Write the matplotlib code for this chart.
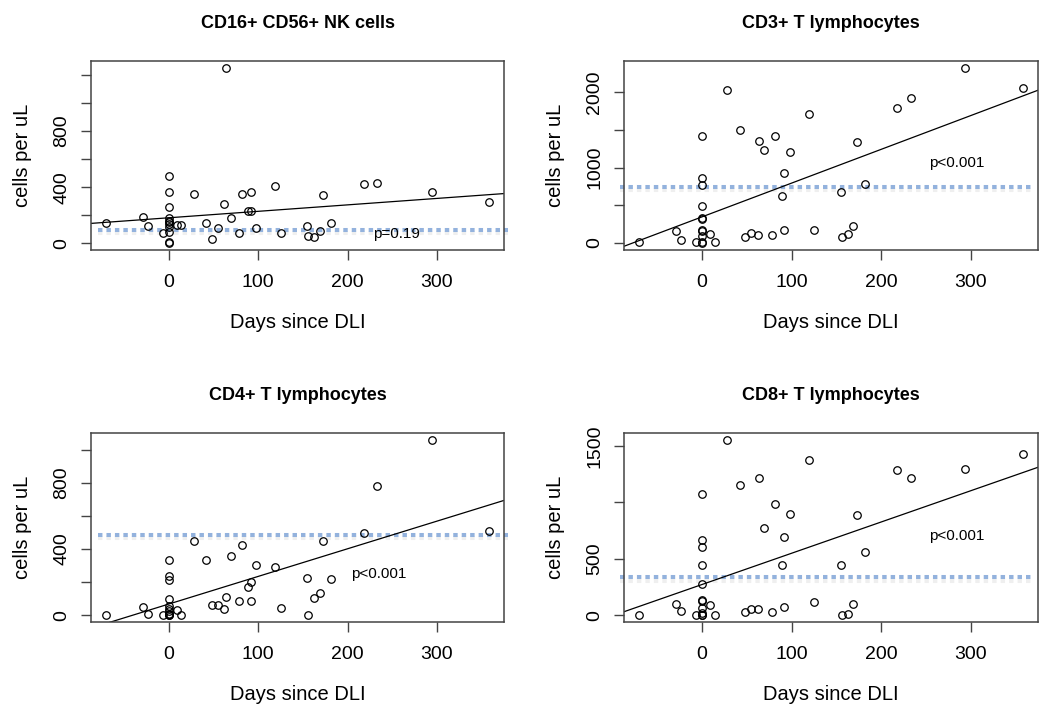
import numpy as np
import matplotlib
matplotlib.use("Agg")
import matplotlib.pyplot as plt
import matplotlib.patheffects as pe

plt.rcParams['font.family'] = ['Liberation Sans', 'DejaVu Sans']

# days since DLI (same samples in every panel), zeros listed separately
days_nz = [-70, -29, -23, -7, 9, 14, 28, 42, 48, 55, 62, 64, 69, 78, 82, 89,
           92, 92, 98, 119, 125, 155, 156, 163, 169, 173, 182, 218, 233, 294, 358]
n_zero = 11

# cell counts (cells per uL), non-zero days then the day-0 samples
nk_nz = [146, 191, 125, 75, 132, 132, 349, 144, 30, 110, 283, 1250, 181, 75, 349, 233,
         363, 231, 108, 410, 75, 125, 52, 45, 90, 344, 146, 424, 427, 368, 292]
nk_zero = [483, 365, 262, 179, 160, 150, 137, 118, 82, 11, 2]

cd3_nz = [8, 153, 40, 8, 123, 13, 2035, 1499, 83, 127, 100, 1354, 1235, 108, 1420, 628,
          923, 167, 1209, 1706, 167, 672, 74, 118, 224, 1341, 778, 1794, 1926, 2322, 2053]
cd3_zero = [1420, 866, 769, 488, 330, 320, 175, 153, 88, 8, 0]

cd4_nz = [0, 48, 8, 0, 34, 0, 446, 334, 60, 64, 40, 108, 356, 88, 426, 170,
          200, 88, 306, 290, 46, 228, 0, 106, 136, 446, 222, 496, 780, 1056, 506]
cd4_zero = [336, 240, 214, 96, 56, 40, 24, 10, 5, 0, 0]

cd8_nz = [0, 103, 39, 0, 88, 0, 1551, 1151, 26, 53, 56, 1218, 771, 30, 989, 450,
          697, 71, 900, 1380, 115, 450, 0, 15, 97, 886, 562, 1289, 1218, 1297, 1430]
cd8_zero = [1077, 671, 609, 450, 280, 139, 124, 65, 20, 0, 0]

titles = ["CD16+ CD56+ NK cells", "CD3+ T lymphocytes", "CD4+ T lymphocytes", "CD8+ T lymphocytes"]
counts = [nk_nz + nk_zero, cd3_nz + cd3_zero, cd4_nz + cd4_zero, cd8_nz + cd8_zero]
ref_level = [96, 747, 486, 335]          # dotted reference lines
fit_intercept = [182, 347, 68, 273]      # regression lines
fit_slope = [0.46, 4.48, 1.667, 2.77]
p_text = ["p=0.19", "p<0.001", "p<0.001", "p<0.001"]
p_pos = [(255, 66), (284, 1063), (235, 250), (284, 700)]
ytick_step = [200, 500, 200, 500]
ytick_labels = [[0, 400, 800], [0, 1000, 2000], [0, 400, 800], [0, 500, 1500]]

days = np.array(days_nz + [0] * n_zero, dtype=float)

fig = plt.figure(figsize=(10.5, 7.18), dpi=100)
positions = [[0.0867, 0.6518, 0.3933, 0.2632], [0.5943, 0.6518, 0.3943, 0.2632],
             [0.0867, 0.1333, 0.3933, 0.2632], [0.5943, 0.1333, 0.3943, 0.2632]]
dot_span = [(0.017, 1.01), (-0.01, 0.984), (0.017, 1.01), (-0.01, 0.984)]

for i in range(4):
    ax = fig.add_axes(positions[i])
    y = np.array(counts[i], dtype=float)

    # R style 4% padding
    xr = days.max() - days.min()
    yr = y.max() - y.min()
    ax.set_xlim(days.min() - 0.04 * xr, days.max() + 0.04 * xr)
    ax.set_ylim(y.min() - 0.04 * yr, y.max() + 0.04 * yr)

    ax.axhline(ref_level[i], xmin=dot_span[i][0], xmax=dot_span[i][1], color='#93b2dd',
               lw=2.9, linestyle=(0, (1.1, 1.0)), dash_capstyle='butt', clip_on=False,
               zorder=1,
               path_effects=[pe.SimpleLineShadow(offset=(0, -2.5), shadow_color='#999999', alpha=0.15),
                             pe.Normal()])

    ax.axline((0, fit_intercept[i]), slope=fit_slope[i], color='black', lw=0.9, zorder=2)

    ax.plot(days, y, 'o', mfc='none', mec='black', ms=5.4, mew=0.9, zorder=3)

    ax.text(p_pos[i][0], p_pos[i][1], p_text[i], fontsize=11, ha='center', va='center')

    ax.set_title(titles[i], fontsize=13, fontweight='bold', pad=24)
    ax.set_xlabel("Days since DLI", fontsize=14.5, labelpad=16)
    ax.set_ylabel("cells per uL", fontsize=14.5, labelpad=15)

    ax.set_xticks([0, 100, 200, 300])
    yt = np.arange(0, y.max() + 1, ytick_step[i])
    ax.set_yticks(yt)
    ax.set_yticklabels([str(int(v)) if int(v) in ytick_labels[i] else '' for v in yt],
                       rotation=90, va='center')
    ax.tick_params(axis='both', direction='out', length=7, width=1, color='#444444',
                   labelsize=14)
    ax.tick_params(axis='x', pad=10)
    ax.tick_params(axis='y', pad=8)
    for s in ax.spines.values():
        s.set_color('#444444')
        s.set_linewidth(1.1)

fig.savefig("out.png", dpi=100)
